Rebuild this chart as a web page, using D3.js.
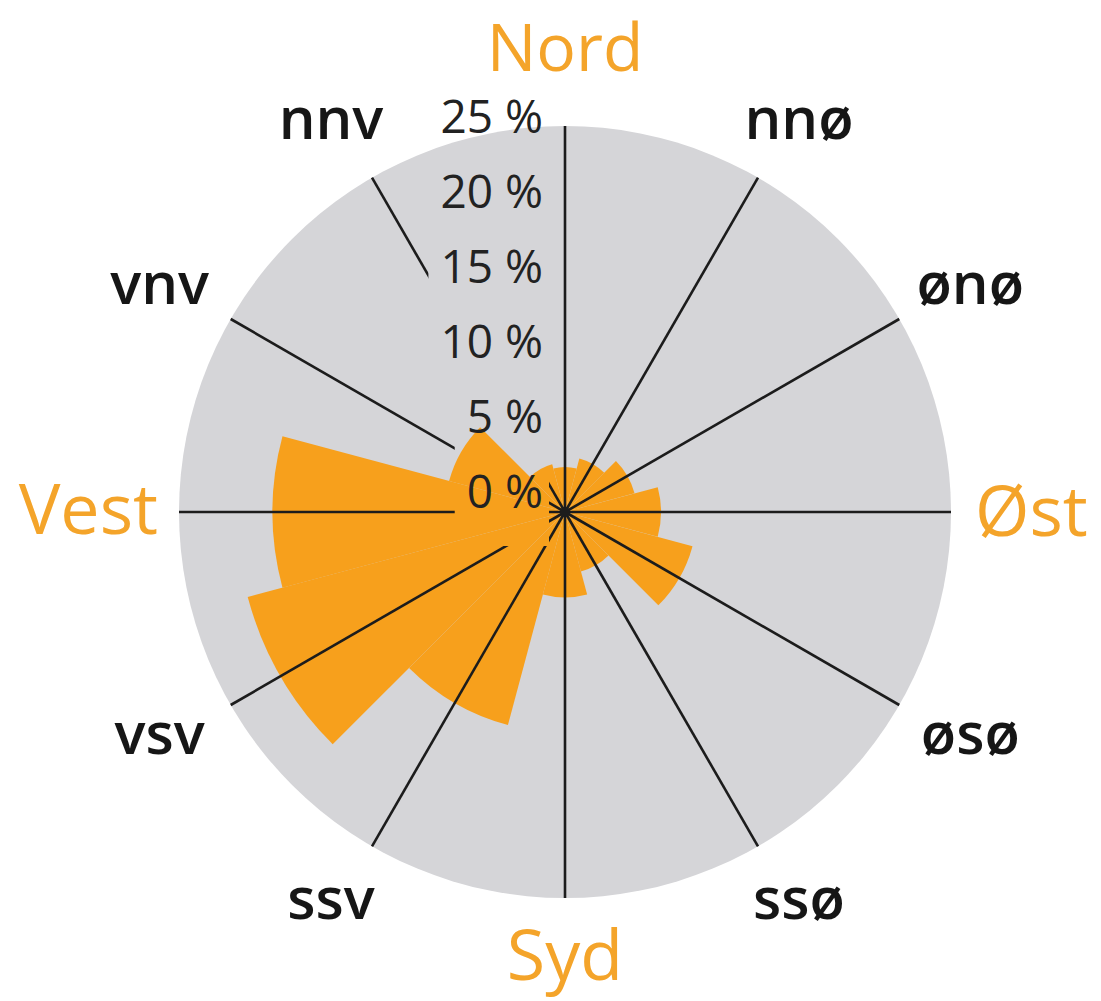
<!DOCTYPE html>
<html>
<head>
<meta charset="utf-8">
<script src="https://cdn.jsdelivr.net/npm/d3@7"></script>
<style>
  html, body { margin: 0; padding: 0; background: #ffffff; }
  svg { display: block; }
</style>
</head>
<body>
<svg id="chart" width="1101" height="1001"></svg>
<script>
// ---- data ----
const directions = ["Nord", "nnø", "ønø", "Øst", "øsø", "ssø", "Syd", "ssv", "vsv", "Vest", "vnv", "nnv"];
const frequency  = [3.0, 3.7, 4.8, 6.4, 8.8, 4.1, 5.7, 14.7, 21.9, 19.5, 8.0, 3.3]; // percent
const tickValues = [0, 5, 10, 15, 20, 25];
const tickLabels = ["0 %", "5 %", "10 %", "15 %", "20 %", "25 %"];
const cardinals  = ["Nord", "Øst", "Syd", "Vest"];

// ---- layout ----
const W = 1101, H = 1001;
const cx = 565, cy = 512;
const diskR = 386;
const svg = d3.select("#chart");
const g = svg.append("g").attr("transform", `translate(${cx},${cy})`);

const step = 360 / directions.length;
const angle = d3.scaleLinear().domain([0, directions.length]).range([0, 2 * Math.PI]);
const r = d3.scaleLinear().domain([0, 25]).range([0, 375]);

const orange = "#f7a01c";
const labelOrange = "#f4a42a";
const fontFam = "'Open Sans', 'Noto Sans', 'DejaVu Sans', sans-serif";

// grey disk
g.append("circle").attr("r", diskR).attr("fill", "#d5d5d8");

// sectors
const arc = d3.arc()
  .innerRadius(0)
  .outerRadius(d => r(d.v))
  .startAngle(d => angle(d.i) - angle(0.5))
  .endAngle(d => angle(d.i) + angle(0.5));

g.append("g").selectAll("path")
  .data(frequency.map((v, i) => ({ v, i })))
  .join("path")
  .attr("d", arc)
  .attr("fill", orange);

// percent labels (measured first to build line mask)
const tickG = svg.append("g").attr("class", "ticks");
const tickText = tickG.selectAll("text")
  .data(tickValues)
  .join("text")
  .attr("x", cx - 22)
  .attr("y", d => cy - 4 - r(d))
  .attr("text-anchor", "end")
  .attr("font-family", fontFam)
  .attr("font-size", 46)
  .attr("font-weight", 500)
  .attr("fill", "#222222")
  .text((d, i) => tickLabels[i]);

// mask that hides radial lines behind the label column
const defs = svg.append("defs");
const mask = defs.append("mask").attr("id", "lineMask").attr("maskUnits", "userSpaceOnUse")
  .attr("x", 0).attr("y", 0).attr("width", W).attr("height", H);
mask.append("rect").attr("x", 0).attr("y", 0).attr("width", W).attr("height", H).attr("fill", "white");
tickText.each(function (d) {
  const b = this.getBBox();
  const base = cy - 4 - r(d);
  mask.append("rect")
    .attr("x", b.x - 12)
    .attr("y", base - 40)
    .attr("width", b.width + 18)
    .attr("height", 78)
    .attr("fill", "black");
});

// radial lines
const lineG = svg.append("g").attr("mask", "url(#lineMask)")
  .append("g").attr("transform", `translate(${cx},${cy})`);
lineG.selectAll("line")
  .data(directions.map((d, i) => i))
  .join("line")
  .attr("x1", 0).attr("y1", 0)
  .attr("x2", i => diskR * Math.sin(angle(i)))
  .attr("y2", i => -diskR * Math.cos(angle(i)))
  .attr("stroke", "#1c1c1c")
  .attr("stroke-width", 2.6);
lineG.append("circle").attr("r", 5).attr("fill", "#1c1c1c");

// raise tick labels above lines
tickG.raise();

// direction labels
const labelG = svg.append("g");
directions.forEach((name, i) => {
  const a = angle(i);
  const deg = i * step;
  if (cardinals.includes(name)) {
    let x, y, anchor;
    if (deg === 0)        { x = cx; y = cy - 441; anchor = "middle"; }
    else if (deg === 90)  { x = cx + 410; y = cy + 24; anchor = "start"; }
    else if (deg === 180) { x = cx; y = cy + 468; anchor = "middle"; }
    else                  { x = cx - 407; y = cy + 22; anchor = "end"; }
    labelG.append("text")
      .attr("x", x).attr("y", y)
      .attr("text-anchor", anchor)
      .attr("font-family", fontFam)
      .attr("font-size", deg === 0 ? 66 : 70)
      .attr("fill", labelOrange)
      .text(name);
  } else {
    const x = cx + 468 * Math.sin(a);
    const y = cy - 450 * Math.cos(a);
    labelG.append("text")
      .attr("x", x).attr("y", y + 17)
      .attr("text-anchor", "middle")
      .attr("font-family", fontFam)
      .attr("font-size", 58)
      .attr("font-weight", 600)
      .attr("fill", "#161616")
      .text(name);
  }
});
</script>
</body>
</html>
